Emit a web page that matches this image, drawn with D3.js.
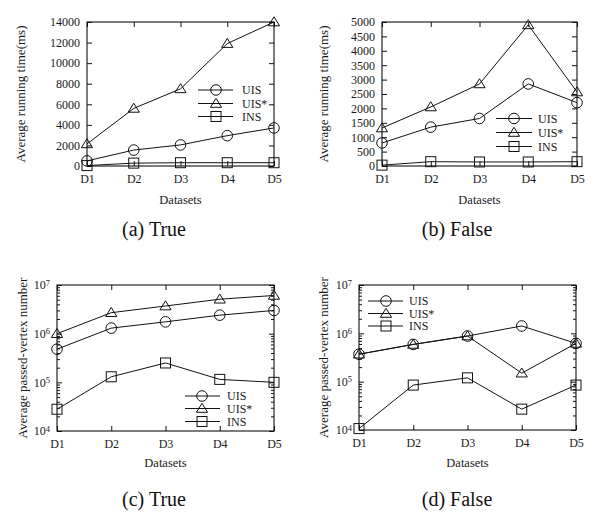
<!DOCTYPE html>
<html><head><meta charset="utf-8">
<script src="https://cdn.jsdelivr.net/npm/d3@7"></script>
<style>
body{margin:0;background:#fff}
text{font-family:"Liberation Serif","Times New Roman",serif;fill:#1a1a1a}
</style>
</head><body>
<svg id="chart" width="596" height="512"></svg>
<script>
// ---------- data ----------
const datasets = ["D1","D2","D3","D4","D5"];
const seriesNames = ["UIS","UIS*","INS"];
const seriesMarkers = ["circle","triangle","square"];

const timeTrueUIS     = [500, 1550, 2050, 2950, 3700];
const timeTrueUISStar = [2150, 5600, 7500, 11900, 14000];
const timeTrueINS     = [40, 280, 320, 320, 320];

const timeFalseUIS     = [800, 1350, 1650, 2850, 2200];
const timeFalseUISStar = [1320, 2050, 2850, 4900, 2570];
const timeFalseINS     = [30, 150, 140, 140, 150];

const vertTrueUIS     = [4.8e5, 1.3e6, 1.75e6, 2.4e6, 3.0e6];
const vertTrueUISStar = [1.0e6, 2.7e6, 3.7e6, 5.1e6, 6.1e6];
const vertTrueINS     = [2.8e4, 1.3e5, 2.5e5, 1.15e5, 1.0e5];

const vertFalseUIS     = [3.7e5, 5.9e5, 8.8e5, 1.42e6, 6.2e5];
const vertFalseUISStar = [3.7e5, 5.9e5, 8.8e5, 1.5e5, 6.2e5];
const vertFalseINS     = [1.07e4, 8.5e4, 1.2e5, 2.7e4, 8.5e4];

const timeTrueTicks  = [0,2000,4000,6000,8000,10000,12000,14000];
const timeFalseTicks = [0,500,1000,1500,2000,2500,3000,3500,4000,4500,5000];
const vertTicks      = [1e4,1e5,1e6,1e7];

const xLabel = "Datasets";
const yLabelTime = "Average running time(ms)";
const yLabelVert = "Average passed-vertex number";
const captions = ["(a) True","(b) False","(c) True","(d) False"];

// ---------- layout ----------
const panels = [
  {series:[timeTrueUIS,timeTrueUISStar,timeTrueINS], log:false, max:14000, ticks:timeTrueTicks,
   left:87, right:274, top:22, bottom:166, ylab:yLabelTime, ylabX:20, xlabY:204,
   cap:captions[0], capX:154, capY:236,
   leg:{x1:198, x2:233, mx:216, tx:242, ys:[90,103.5,116.5]}},
  {series:[timeFalseUIS,timeFalseUISStar,timeFalseINS], log:false, max:5000, ticks:timeFalseTicks,
   left:382, right:577, top:22, bottom:166, ylab:yLabelTime, ylabX:323, xlabY:204,
   cap:captions[1], capX:457, capY:236,
   leg:{x1:496, x2:532, mx:514, tx:538, ys:[118.5,132.5,146.5]}},
  {series:[vertTrueUIS,vertTrueUISStar,vertTrueINS], log:true, ticks:vertTicks,
   left:57, right:274, top:285, bottom:431, ylab:yLabelVert, ylabX:22, xlabY:467,
   cap:captions[2], capX:154, capY:506,
   leg:{x1:185, x2:220, mx:202, tx:227, ys:[396,408.5,421.5]}},
  {series:[vertFalseUIS,vertFalseUISStar,vertFalseINS], log:true, ticks:vertTicks,
   left:359, right:576, top:285, bottom:430, ylab:yLabelVert, ylabX:323, xlabY:467,
   cap:captions[3], capX:457, capY:506,
   leg:{x1:368, x2:403, mx:386, tx:409, ys:[301,313.5,326]}}
];

const svg = d3.select("#chart");

function marker(sel, type){
  if(type==="circle") return sel.append("circle").attr("r",5.3);
  if(type==="triangle") return sel.append("path").attr("d","M0,-5.2L5.6,3.8L-5.6,3.8Z");
  return sel.append("rect").attr("x",-5).attr("y",-5).attr("width",10).attr("height",10);
}

function styleAxis(g, fs){
  g.select(".domain").remove();
  g.attr("font-family",null).attr("font-size",null);
  g.selectAll("line").attr("stroke","#111").attr("stroke-width",1);
  g.selectAll("text").style("font-size",fs+"px");
}

panels.forEach(p=>{
  const g = svg.append("g");
  const x = d3.scalePoint().domain(datasets).range([p.left,p.right]).padding(0);
  const y = p.log
    ? d3.scaleLog().domain([1e4,1e7]).range([p.bottom,p.top])
    : d3.scaleLinear().domain([0,p.max]).range([p.bottom,p.top]);

  // minor log ticks
  if(p.log){
    const minors=[];
    for(let e=4;e<7;e++) for(let m=2;m<=9;m++) minors.push(m*Math.pow(10,e));
    g.append("g").attr("transform",`translate(${p.left},0)`)
      .call(d3.axisLeft(y).tickValues(minors).tickSize(-3).tickFormat(""))
      .call(a=>styleAxis(a,12));
    g.append("g").attr("transform",`translate(${p.right},0)`)
      .call(d3.axisRight(y).tickValues(minors).tickSize(-3).tickFormat(""))
      .call(a=>styleAxis(a,12));
  }

  // left axis
  const la = g.append("g").attr("transform",`translate(${p.left},0)`)
    .call(d3.axisLeft(y).tickValues(p.ticks).tickSize(-5).tickPadding(7)
      .tickFormat(p.log ? ()=>"" : d3.format("d")))
    .call(a=>styleAxis(a,12));
  if(p.log){
    la.selectAll(".tick text").each(function(d){
      const t=d3.select(this);
      t.append("tspan").text("10");
      t.append("tspan").attr("dy","-0.45em").style("font-size","8.5px").text(Math.round(Math.log10(d)));
    });
  }
  // right axis
  g.append("g").attr("transform",`translate(${p.right},0)`)
    .call(d3.axisRight(y).tickValues(p.ticks).tickSize(-5).tickFormat(""))
    .call(a=>styleAxis(a,12));
  // bottom axis
  g.append("g").attr("transform",`translate(0,${p.bottom})`)
    .call(d3.axisBottom(x).tickSize(-5).tickPadding(8.5))
    .call(a=>styleAxis(a,12));
  // top axis
  g.append("g").attr("transform",`translate(0,${p.top})`)
    .call(d3.axisTop(x).tickSize(-5).tickFormat(""))
    .call(a=>styleAxis(a,12));

  // frame
  g.append("rect").attr("x",p.left).attr("y",p.top)
    .attr("width",p.right-p.left).attr("height",p.bottom-p.top)
    .attr("fill","none").attr("stroke","#111").attr("stroke-width",1.1);

  // series
  const line = d3.line().x((d,i)=>x(datasets[i])).y(d=>y(d));
  p.series.forEach((vals,si)=>{
    g.append("path").datum(vals).attr("d",line)
      .attr("fill","none").attr("stroke","#111").attr("stroke-width",1);
    vals.forEach((v,i)=>{
      const mg = g.append("g").attr("transform",`translate(${x(datasets[i])},${y(v)})`);
      marker(mg, seriesMarkers[si]).attr("fill","none").attr("stroke","#111").attr("stroke-width",1);
    });
  });

  // legend
  seriesNames.forEach((name,si)=>{
    const yy = p.leg.ys[si];
    g.append("line").attr("x1",p.leg.x1).attr("x2",p.leg.x2).attr("y1",yy).attr("y2",yy)
      .attr("stroke","#111").attr("stroke-width",1);
    const mg = g.append("g").attr("transform",`translate(${p.leg.mx},${yy})`);
    marker(mg, seriesMarkers[si]).attr("fill","none").attr("stroke","#111").attr("stroke-width",1);
    g.append("text").attr("x",p.leg.tx).attr("y",yy).attr("dy","0.35em")
      .style("font-size","12px").text(name);
  });

  // axis labels
  g.append("text").attr("x",(p.left+p.right)/2).attr("y",p.xlabY)
    .attr("text-anchor","middle").style("font-size","12.5px").text(xLabel);
  g.append("text").attr("transform",`translate(${p.ylabX},${(p.top+p.bottom)/2}) rotate(-90)`)
    .attr("text-anchor","middle").attr("dy","0.35em").style("font-size","13px").text(p.ylab);

  // caption
  g.append("text").attr("x",p.capX).attr("y",p.capY).attr("text-anchor","middle")
    .style("font-size","20px").style("fill","#111").text(p.cap);
});
</script>
</body></html>
